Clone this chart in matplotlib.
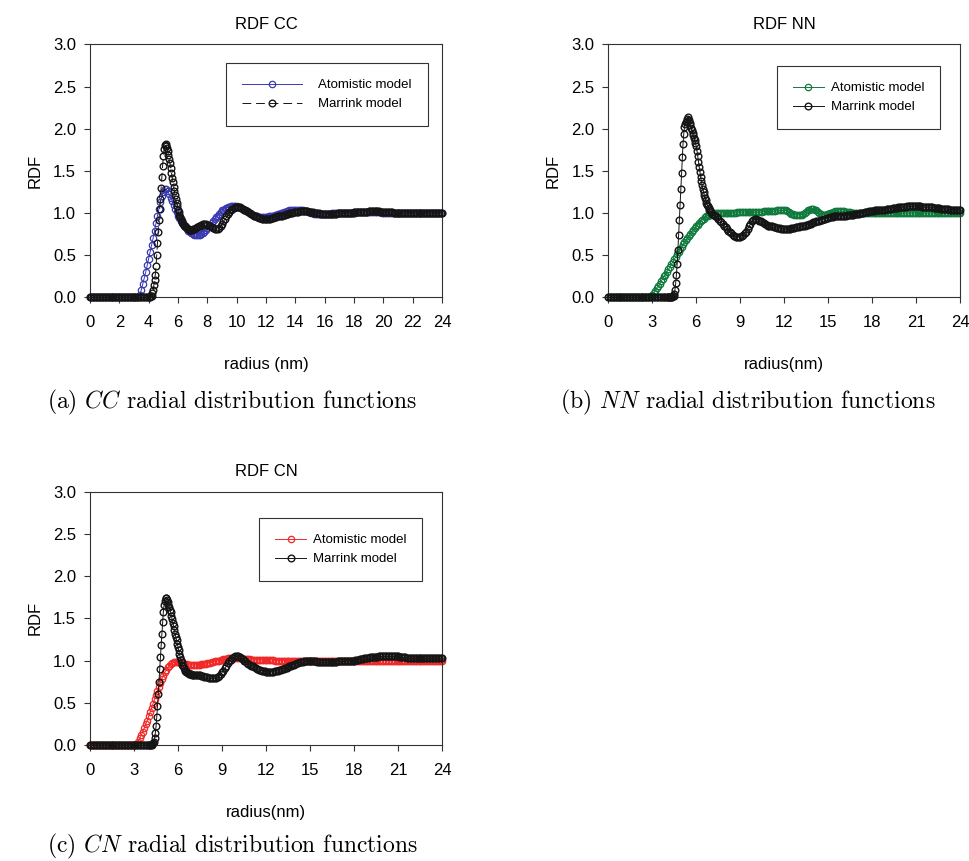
import numpy as np
import matplotlib
matplotlib.use("Agg")
import matplotlib.pyplot as plt

plt.rcParams['font.family'] = ['Liberation Sans', 'DejaVu Sans']
plt.rcParams['mathtext.fontset'] = 'cm'

# radius grids (nm): atomistic every 0.1, Marrink finer around the first peak
r_atom = np.linspace(0, 24, 241)
r_marr = np.concatenate([np.linspace(0, 3.9, 40), np.linspace(4.0, 6.95, 60), np.linspace(7.0, 24.0, 171)])

# ---- RDF CC ----
cc_atom = ([0.0] * 30 +
    [0.00, 0.00, 0.00, 0.00, 0.03, 0.09, 0.16, 0.23, 0.30, 0.38,
     0.46, 0.54, 0.62, 0.70, 0.79, 0.88, 0.97, 1.05, 1.13, 1.20,
     1.25, 1.28, 1.28, 1.26, 1.22, 1.18, 1.14, 1.09, 1.05, 1.01,
     0.97, 0.94, 0.91, 0.88, 0.85, 0.83, 0.81, 0.79, 0.77, 0.76,
     0.75, 0.74, 0.74, 0.74, 0.74, 0.74, 0.75, 0.76, 0.78, 0.80,
     0.82, 0.84, 0.86, 0.88, 0.90, 0.93, 0.95, 0.97, 0.99, 1.01,
     1.03, 1.04, 1.05, 1.06, 1.07, 1.07, 1.08, 1.08, 1.08, 1.08,
     1.08, 1.07, 1.07, 1.06, 1.05, 1.04, 1.03, 1.02, 1.01, 1.00,
     0.99, 0.98, 0.97, 0.96, 0.96, 0.95, 0.95, 0.95, 0.95, 0.95,
     0.95, 0.95, 0.96, 0.96, 0.97, 0.97, 0.98, 0.98, 0.99, 0.99,
     1.00, 1.00, 1.01, 1.01, 1.02, 1.02, 1.03, 1.03, 1.03, 1.03,
     1.03, 1.03, 1.03, 1.03, 1.03, 1.03, 1.02, 1.02, 1.02, 1.01,
     1.01, 1.00, 1.00, 0.99, 0.99, 0.99, 0.99, 0.99, 0.99, 0.99,
     0.99, 0.99, 0.99, 0.99, 0.99, 1.00, 1.00, 1.00, 1.00, 1.00,
     1.00, 1.00, 1.00, 1.00, 1.00, 1.00, 1.00, 1.00, 1.00, 1.00,
     1.00, 1.00, 1.01, 1.01, 1.01, 1.01, 1.01, 1.01, 1.01, 1.01,
     1.01, 1.01, 1.01, 1.01, 1.01, 1.01, 1.01, 1.01, 1.01, 1.00] +
    [1.00] * 41)

cc_marr = ([0.0] * 40 +
    [0.00, 0.00, 0.00, 0.01, 0.02, 0.05, 0.09, 0.14, 0.20, 0.27,
     0.37, 0.50, 0.64, 0.78, 0.92, 1.05, 1.17, 1.30, 1.43, 1.56,
     1.67, 1.76, 1.81, 1.82, 1.80, 1.77, 1.73, 1.69, 1.64, 1.59,
     1.53, 1.48, 1.42, 1.37, 1.31, 1.26, 1.21, 1.16, 1.12, 1.08,
     1.04, 1.01, 0.98, 0.95, 0.93, 0.91, 0.89, 0.87, 0.86, 0.85,
     0.84, 0.83, 0.82, 0.81, 0.81, 0.80, 0.80, 0.80, 0.80, 0.80] +
    [0.81, 0.81, 0.82, 0.83, 0.84, 0.85, 0.86, 0.87, 0.87, 0.87,
     0.86, 0.85, 0.84, 0.83, 0.82, 0.81, 0.81, 0.81, 0.82, 0.84,
     0.87, 0.90, 0.93, 0.96, 0.99, 1.01, 1.03, 1.05, 1.06, 1.07,
     1.07, 1.07, 1.07, 1.06, 1.05, 1.04, 1.03, 1.02, 1.01, 1.00,
     0.99, 0.98, 0.97, 0.96, 0.95, 0.94, 0.94, 0.93, 0.93, 0.93,
     0.93, 0.93, 0.93, 0.93, 0.94, 0.94, 0.95, 0.95, 0.96, 0.96,
     0.97, 0.97, 0.98, 0.98, 0.99, 0.99, 1.00, 1.00, 1.00, 1.01,
     1.01, 1.01, 1.01, 1.02, 1.02, 1.02, 1.02, 1.02, 1.02, 1.01,
     1.01, 1.01, 1.01, 1.00, 1.00, 1.00, 1.00, 0.99, 0.99, 0.99,
     0.99, 0.99, 0.99, 0.99, 0.99, 0.99, 0.99, 0.99, 0.99, 1.00,
     1.00, 1.00, 1.00, 1.00, 1.00, 1.00, 1.00, 1.00, 1.00, 1.00,
     1.01, 1.01, 1.01, 1.01, 1.01, 1.01, 1.01, 1.01, 1.01, 1.01,
     1.02, 1.02, 1.02, 1.02, 1.02, 1.02, 1.02, 1.02, 1.01, 1.01,
     1.01, 1.01, 1.01, 1.01, 1.01, 1.01, 1.01, 1.00, 1.00, 1.00] +
    [1.00] * 31)

# ---- RDF NN ----
nn_atom = ([0.0] * 28 +
    [0.00, 0.01,
     0.03, 0.05, 0.08, 0.11, 0.13, 0.16, 0.19, 0.22, 0.25, 0.27,
     0.30, 0.33, 0.36, 0.39, 0.42, 0.45, 0.48, 0.51, 0.54, 0.57,
     0.60, 0.63, 0.65, 0.68, 0.70, 0.73, 0.75, 0.78, 0.80, 0.82,
     0.84, 0.86, 0.88, 0.90, 0.92, 0.93, 0.95, 0.96, 0.97, 0.98,
     0.98, 0.99, 0.99, 1.00, 1.00, 1.00, 1.00, 1.00, 1.00, 1.00,
     1.00, 1.00, 1.00, 1.00, 1.00, 1.00, 1.00, 1.00, 1.01, 1.01,
     1.01, 1.01, 1.01, 1.01, 1.01, 1.01, 1.01, 1.01, 1.01, 1.01,
     1.01, 1.01, 1.01, 1.01, 1.01, 1.01, 1.02, 1.02, 1.02, 1.02,
     1.02, 1.02, 1.02, 1.02, 1.02, 1.03, 1.03, 1.03, 1.03, 1.03,
     1.03, 1.03, 1.02, 1.01, 1.00, 0.99, 0.99, 0.98, 0.98, 0.98,
     0.98, 0.98, 0.98, 0.99, 1.00, 1.01, 1.03, 1.04, 1.05, 1.05,
     1.05, 1.04, 1.03, 1.01, 1.00, 0.99, 0.98, 0.98, 0.98, 0.99,
     0.99, 1.00, 1.00, 1.01, 1.01, 1.02, 1.02, 1.02, 1.02, 1.02,
     1.02, 1.02, 1.01, 1.01, 1.01, 1.01, 1.00, 1.00, 1.00, 1.00] +
    [1.00] * 71)

nn_marr = ([0.0] * 40 +
    [0.00, 0.00, 0.00, 0.00, 0.00, 0.00, 0.00, 0.00, 0.01, 0.02,
     0.04, 0.09, 0.17, 0.27, 0.40, 0.56, 0.74, 0.92, 1.10, 1.29,
     1.48, 1.66, 1.82, 1.94, 2.02, 2.06, 2.08, 2.09, 2.11, 2.14,
     2.10, 2.07, 2.04, 2.01, 1.98, 1.95, 1.92, 1.89, 1.86, 1.83,
     1.79, 1.74, 1.68, 1.61, 1.55, 1.49, 1.43, 1.38, 1.33, 1.29,
     1.25, 1.21, 1.18, 1.15, 1.12, 1.10, 1.08, 1.06, 1.04, 1.03] +
    [1.01, 0.99, 0.98, 0.97, 0.95, 0.93, 0.91, 0.89, 0.87, 0.85,
     0.83, 0.81, 0.79, 0.77, 0.76, 0.74, 0.73, 0.72, 0.72, 0.72,
     0.72, 0.73, 0.74, 0.76, 0.78, 0.81, 0.84, 0.87, 0.90, 0.92,
     0.93, 0.93, 0.92, 0.91, 0.90, 0.89, 0.88, 0.87, 0.86, 0.85,
     0.85, 0.84, 0.84, 0.83, 0.83, 0.82, 0.82, 0.82, 0.81, 0.81,
     0.81, 0.81, 0.81, 0.81, 0.81, 0.82, 0.82, 0.82, 0.83, 0.83,
     0.83, 0.84, 0.84, 0.85, 0.85, 0.86, 0.86, 0.87, 0.87, 0.88,
     0.89, 0.89, 0.90, 0.91, 0.91, 0.92, 0.92, 0.93, 0.93, 0.94,
     0.94, 0.95, 0.95, 0.95, 0.96, 0.96, 0.96, 0.96, 0.97, 0.97,
     0.97, 0.97, 0.97, 0.98, 0.98, 0.98, 0.98, 0.98, 0.99, 0.99,
     0.99, 0.99, 1.00, 1.00, 1.00, 1.01, 1.01, 1.01, 1.02, 1.02,
     1.02, 1.02, 1.03, 1.03, 1.03, 1.03, 1.04, 1.04, 1.04, 1.04,
     1.05, 1.05, 1.05, 1.05, 1.06, 1.06, 1.06, 1.06, 1.07, 1.07,
     1.07, 1.07, 1.07, 1.07, 1.08, 1.08, 1.08, 1.08, 1.08, 1.08,
     1.08, 1.08, 1.08, 1.08, 1.07, 1.07, 1.07, 1.07, 1.07, 1.07,
     1.07, 1.07, 1.06, 1.06, 1.06, 1.06, 1.06, 1.05, 1.05, 1.05,
     1.05, 1.05, 1.05, 1.04, 1.04, 1.04, 1.04, 1.04, 1.04, 1.04,
     1.04])

# ---- RDF CN ----
cn_atom = ([0.0] * 30 +
    [0.00, 0.00, 0.01, 0.04, 0.08, 0.12, 0.16, 0.20, 0.25, 0.29,
     0.34, 0.39, 0.44, 0.49, 0.54, 0.59, 0.64, 0.69, 0.74, 0.78,
     0.82, 0.86, 0.89, 0.92, 0.94, 0.96, 0.97, 0.98, 0.98, 0.98,
     0.98, 0.98, 0.97, 0.97, 0.96, 0.96, 0.96, 0.95, 0.95, 0.95,
     0.95, 0.95, 0.95, 0.95, 0.95, 0.95, 0.96, 0.96, 0.96, 0.96,
     0.97, 0.97, 0.97, 0.98, 0.98, 0.99, 0.99, 1.00, 1.00, 1.01,
     1.01, 1.02, 1.02, 1.02, 1.03, 1.03, 1.03, 1.03, 1.03, 1.03,
     1.03, 1.03, 1.03, 1.03, 1.02, 1.02, 1.02, 1.02, 1.02, 1.02,
     1.01, 1.01, 1.01, 1.01, 1.01, 1.01, 1.01, 1.01, 1.01, 1.01,
     1.01, 1.01, 1.01, 1.01, 1.01, 1.01, 1.00, 1.00, 1.00, 1.00] +
    [1.00] * 111)

cn_marr = ([0.0] * 40 +
    [0.00, 0.00, 0.00, 0.00, 0.00, 0.01, 0.02, 0.04, 0.08, 0.14,
     0.22, 0.33, 0.46, 0.60, 0.75, 0.90, 1.04, 1.18, 1.32, 1.46,
     1.58, 1.66, 1.71, 1.74, 1.74, 1.72, 1.69, 1.66, 1.63, 1.60,
     1.57, 1.53, 1.49, 1.45, 1.41, 1.36, 1.32, 1.28, 1.24, 1.20,
     1.16, 1.12, 1.08, 1.04, 1.01, 0.98, 0.95, 0.93, 0.91, 0.89,
     0.88, 0.87, 0.86, 0.85, 0.85, 0.84, 0.84, 0.84, 0.84, 0.83] +
    [0.83, 0.83, 0.83, 0.83, 0.83, 0.83, 0.82, 0.82, 0.81, 0.80,
     0.80, 0.79, 0.79, 0.79, 0.79, 0.79, 0.79, 0.80, 0.82, 0.84,
     0.86, 0.88, 0.91, 0.94, 0.97, 0.99, 1.01, 1.03, 1.04, 1.05,
     1.05, 1.05, 1.04, 1.03, 1.02, 1.00, 0.99, 0.97, 0.96, 0.95,
     0.94, 0.93, 0.92, 0.91, 0.90, 0.89, 0.89, 0.88, 0.88, 0.88,
     0.87, 0.87, 0.87, 0.87, 0.87, 0.87, 0.88, 0.88, 0.88, 0.89,
     0.89, 0.90, 0.90, 0.91, 0.91, 0.92, 0.93, 0.94, 0.95, 0.95,
     0.96, 0.97, 0.97, 0.98, 0.98, 0.98, 0.99, 0.99, 0.99, 0.99,
     0.99, 0.99, 0.99, 0.99, 0.99, 0.98, 0.98, 0.98, 0.98, 0.98,
     0.98, 0.98, 0.98, 0.98, 0.98, 0.98, 0.98, 0.98, 0.98, 0.99,
     0.99, 0.99, 0.99, 0.99, 0.99, 1.00, 1.00, 1.00, 1.00, 1.00,
     1.00, 1.01, 1.01, 1.01, 1.02, 1.02, 1.02, 1.03, 1.03, 1.03,
     1.03, 1.04, 1.04, 1.04, 1.04, 1.04, 1.04, 1.05, 1.05, 1.05,
     1.05, 1.05, 1.05, 1.05, 1.05, 1.05, 1.05, 1.05, 1.05, 1.05,
     1.05, 1.04, 1.04, 1.04, 1.04, 1.04, 1.03, 1.03, 1.03, 1.03] +
    [1.03] * 21)

titles = ['RDF CC', 'RDF NN', 'RDF CN']
xlabels = ['radius (nm)', 'radius(nm)', 'radius(nm)']
captions = ['(a) $CC$ radial distribution functions',
            '(b) $NN$ radial distribution functions',
            '(c) $CN$ radial distribution functions']
atom_colors = ['#3a3ab0', '#0f7a3c', '#f02828']
xtick_steps = [2, 3, 3]

fig = plt.figure(figsize=(9.7, 8.61), dpi=100)
axes = [fig.add_axes([0.0928, 0.6547, 0.3629, 0.2938]),
        fig.add_axes([0.6271, 0.6547, 0.3626, 0.2938]),
        fig.add_axes([0.0928, 0.1347, 0.3629, 0.2942])]

atom_data = [cc_atom, nn_atom, cn_atom]
marr_data = [cc_marr, nn_marr, cn_marr]
legend_boxes = [(0.386, 0.925), (0.479, 0.913), (0.480, 0.895)]

for i, ax in enumerate(axes):
    ax.plot(r_atom, atom_data[i], color=atom_colors[i], lw=0.7, marker='o', ms=4.6,
            mfc='none', mew=0.9, label='Atomistic model', clip_on=False, zorder=2)
    ls = (0, (9, 5)) if i == 0 else '-'
    ax.plot(r_marr, marr_data[i], color='#151515', lw=0.7, ls=ls, marker='o', ms=4.8,
            mfc='none', mew=1.0, label='Marrink model', clip_on=False, zorder=3)

    ax.set_xlim(0, 24)
    ax.set_ylim(0, 3)
    ax.set_xticks(np.arange(0, 25, xtick_steps[i]))
    ax.set_yticks(np.arange(0, 3.01, 0.5))
    ax.set_yticklabels(['%.1f' % v for v in np.arange(0, 3.01, 0.5)])
    ax.tick_params(direction='out', length=4, width=0.8, labelsize=12, color='#333333')
    ax.tick_params(axis='x', pad=9)
    ax.tick_params(axis='y', pad=6)
    for sp in ax.spines.values():
        sp.set_color('#333333')
        sp.set_linewidth(0.8)

    ax.set_title(titles[i], fontsize=12, pad=11)
    ax.set_xlabel(xlabels[i], fontsize=12)
    ax.set_ylabel('RDF', fontsize=12)
    ax.xaxis.set_label_coords(0.5, -0.235)
    ax.yaxis.set_label_coords(-0.135, 0.5)

    if i == 0:
        leg = ax.legend(loc='upper left', bbox_to_anchor=legend_boxes[i], fontsize=9.5,
                        handlelength=4.6, handletextpad=1.2, borderpad=1.2, borderaxespad=0,
                        labelspacing=0.5, fancybox=False, framealpha=1)
    else:
        leg = ax.legend(loc='upper left', bbox_to_anchor=legend_boxes[i], fontsize=9.5,
                        handlelength=2.4, handletextpad=0.5, borderpad=1.2, borderaxespad=0,
                        labelspacing=0.5, fancybox=False, framealpha=1)
    leg.get_frame().set_edgecolor('#333333')
    leg.get_frame().set_linewidth(0.8)

fig.text(0.0485, 0.532, captions[0], family='cmr10', fontsize=17, va='center')
fig.text(0.577, 0.532, captions[1], family='cmr10', fontsize=17, va='center')
fig.text(0.0485, 0.0105, captions[2], family='cmr10', fontsize=17, va='baseline')

fig.savefig('out.png', dpi=100)
